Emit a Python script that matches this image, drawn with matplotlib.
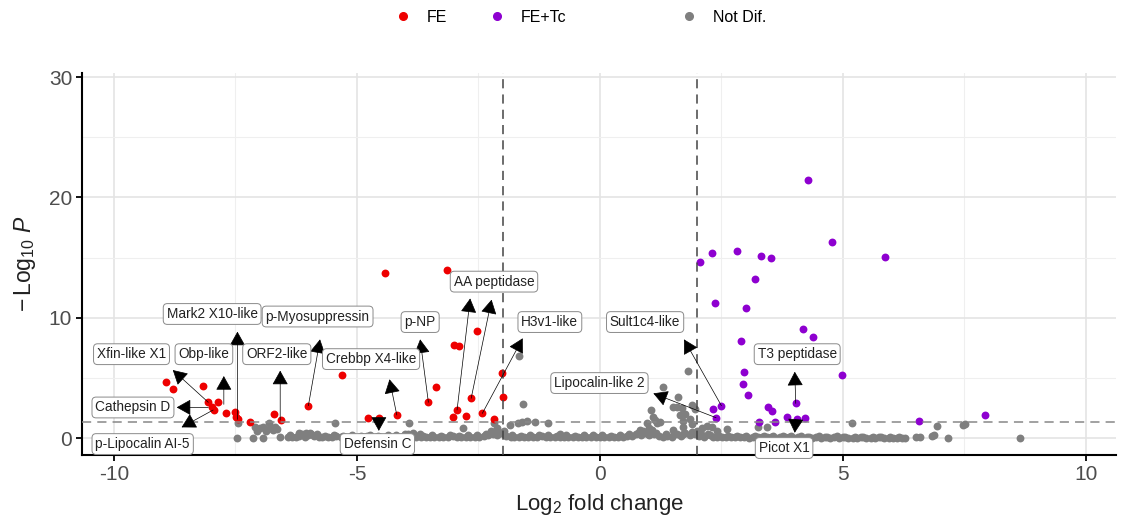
import matplotlib
matplotlib.use("Agg")
import matplotlib.pyplot as plt
from matplotlib.lines import Line2D

plt.rcParams['font.family'] = ['Liberation Sans', 'DejaVu Sans']
plt.rcParams['mathtext.fontset'] = 'custom'
plt.rcParams['mathtext.rm'] = 'Liberation Sans'
plt.rcParams['mathtext.it'] = 'Liberation Sans:italic'

# significant in FE (log2FC, -log10 P)
fe_x = [-8.92, -8.78, -8.16, -8.06, -7.85, -7.99, -7.94, -7.70, -7.52, -7.49, -7.45, -7.20,
        -6.71, -6.57, -6.00, -5.31, -4.78, -4.54, -4.18, -4.42, -3.15, -2.52, -3.00, -2.90,
        -3.37, -3.53, -2.94, -3.03, -2.76, -2.65, -2.42, -2.18, -2.02, -2.00]
fe_y = [4.68, 4.05, 4.32, 2.97, 2.97, 2.60, 2.33, 2.05, 2.19, 1.77, 1.55, 1.30,
        2.00, 1.50, 2.69, 5.24, 1.66, 1.69, 1.91, 13.74, 13.97, 8.89, 7.73, 7.67,
        4.27, 2.97, 2.33, 1.72, 1.83, 3.30, 2.05, 1.55, 5.38, 3.38]

# significant in FE+Tc
tc_x = [4.29, 4.77, 5.86, 2.06, 2.30, 2.83, 3.31, 3.52, 3.19, 2.36, 3.00, 4.18, 4.39, 2.91,
        4.99, 2.97, 2.95, 3.04, 4.03, 2.50, 2.32, 2.39, 3.45, 3.55, 3.27, 3.61, 3.85, 4.06,
        4.22, 6.57, 7.92]
tc_y = [21.45, 16.27, 15.02, 14.66, 15.40, 15.54, 15.13, 14.94, 13.19, 11.20, 10.80, 9.03,
        8.37, 8.09, 5.21, 5.46, 4.46, 3.57, 2.88, 2.69, 2.38, 1.69, 2.60, 2.24, 1.36, 1.30,
        1.72, 1.55, 1.69, 1.44, 1.88]

# not differential, scattered ones
nd_x = [-7.46, -7.13, -6.94, -6.58, -7.44, -7.10, -7.00, -6.93, -6.82, -6.79, -6.72, -6.69,
        -6.65, -7.05, -6.88, -5.46, -6.20, -6.05, -5.95, -3.92, -3.85, -3.70, -2.81, -2.25,
        -2.18, -2.12, -2.08, -1.97, -1.85, -1.68, -1.61, -1.51, -1.34, -1.06, -1.59, -1.66,
        -0.82, 0.82, 0.89, 0.86, 0.96, 1.06, 1.10, 1.13, 1.17, 1.30, 1.23, 1.00, 1.08, 1.61,
        1.51, 1.58, 1.68, 1.89, 1.95, 1.75, 1.85, 1.65, 1.72, 1.90, 1.82, 1.50, 1.70, 2.00,
        2.10, 2.20, 2.30, 2.40, 2.62, 3.26, 3.43, 5.18, 6.93, 6.87, 6.83, 7.52, 7.48, 7.17,
        8.64, 6.51, 6.58]
nd_y = [0.00, 0.00, 0.00, 0.05, 1.22, 0.89, 0.80, 0.94, 1.22, 0.80, 0.66, 0.94,
        0.72, 0.60, 0.60, 1.28, 0.40, 0.45, 0.35, 1.22, 0.40, 0.35, 0.85, 0.60,
        1.22, 0.80, 0.45, 0.60, 1.08, 1.27, 1.36, 1.44, 1.37, 1.22, 2.83, 6.82,
        0.33, 0.66, 0.60, 0.52, 1.22, 2.33, 1.77, 1.50, 1.22, 4.21, 1.35, 0.80, 0.70, 3.43,
        2.60, 2.60, 2.52, 2.74, 2.40, 2.00, 1.60, 1.90, 1.40, 1.20, 5.57, 0.70, 0.90, 0.60,
        0.80, 1.00, 0.90, 0.58, 0.75, 0.95, 0.90, 1.22, 1.02, 0.25, 0.15, 1.16, 1.05, 0.00,
        0.00, 0.05, 0.05]

# the dense band of non-significant genes near zero
band = [(-6.42, 0.05), (-6.33, 0.08), (-6.25, 0.12), (-6.14, 0.30), (-6.06, 0.10), (-5.97, 0.38),
        (-5.88, 0.15), (-5.78, 0.08), (-5.71, 0.12), (-5.60, 0.06), (-5.52, 0.10), (-5.43, 0.14),
        (-5.33, 0.07), (-5.25, 0.11), (-5.15, 0.05), (-5.07, 0.12), (-4.96, 0.09), (-4.88, 0.06),
        (-4.79, 0.13), (-4.70, 0.08), (-4.60, 0.10), (-4.52, 0.05), (-4.41, 0.12), (-4.33, 0.08),
        (-4.24, 0.10), (-4.14, 0.06), (-4.06, 0.20), (-3.95, 0.30), (-3.87, 0.12), (-3.78, 0.08),
        (-3.69, 0.10), (-3.58, 0.06), (-3.50, 0.12), (-3.41, 0.09), (-3.31, 0.05), (-3.22, 0.11),
        (-3.13, 0.07), (-3.03, 0.13), (-2.95, 0.08), (-2.86, 0.10), (-2.76, 0.06), (-2.67, 0.12),
        (-2.58, 0.09), (-2.49, 0.05), (-2.39, 0.14), (-2.31, 0.22), (-2.21, 0.35), (-2.12, 0.28),
        (-2.03, 0.40), (-1.94, 0.18), (-1.84, 0.10), (-1.76, 0.07), (-1.66, 0.12), (-1.57, 0.08),
        (-1.48, 0.11), (-1.38, 0.05), (-1.30, 0.09), (-1.20, 0.13), (-1.11, 0.07), (-1.02, 0.10),
        (-0.93, 0.06), (-0.83, 0.12), (-0.74, 0.08), (-0.65, 0.10), (-0.56, 0.05), (-0.46, 0.11),
        (-0.37, 0.07), (-0.28, 0.12), (-0.18, 0.09), (-0.09, 0.06), (0.00, 0.10), (0.09, 0.07),
        (0.19, 0.12), (0.28, 0.08), (0.37, 0.10), (0.47, 0.06), (0.56, 0.13), (0.65, 0.18),
        (0.74, 0.30), (0.84, 0.25), (0.93, 0.40), (1.02, 0.22), (1.12, 0.35), (1.21, 0.15),
        (1.30, 0.10), (1.39, 0.20), (1.49, 0.12), (1.58, 0.30), (1.67, 0.18), (1.76, 0.40),
        (1.86, 0.25), (1.95, 0.35), (2.04, 0.20), (2.14, 0.12), (2.23, 0.30), (2.32, 0.10),
        (2.41, 0.07), (2.51, 0.11), (2.60, 0.06), (2.69, 0.09), (2.79, 0.05), (2.88, 0.10),
        (2.97, 0.07), (3.06, 0.04), (3.16, 0.09), (3.25, 0.06), (3.34, 0.10), (3.43, 0.05),
        (3.53, 0.08), (3.62, 0.04), (3.71, 0.07), (3.80, 0.05), (3.90, 0.09), (3.99, 0.04),
        (4.08, 0.06), (4.18, 0.03), (4.27, 0.07), (4.36, 0.04), (4.45, 0.06), (4.55, 0.03),
        (4.64, 0.05), (4.73, 0.02), (4.82, 0.06), (4.92, 0.03), (5.01, 0.05), (5.10, 0.02),
        (5.20, 0.04), (5.29, 0.02), (5.38, 0.05), (5.47, 0.03), (5.57, 0.04), (5.66, 0.02),
        (5.75, 0.05), (5.85, 0.03), (5.94, 0.04), (6.03, 0.02), (6.12, 0.04), (6.21, 0.03),
        (6.28, 0.02)]

# second layer of the band, where it is thickest
band_top = [(-6.37, 0.22), (-6.19, 0.18), (-6.01, 0.25), (-5.83, 0.30), (-5.65, 0.20), (-5.47, 0.24),
            (-5.29, 0.19), (-5.11, 0.26), (-4.92, 0.21), (-4.74, 0.25), (-4.56, 0.18), (-4.37, 0.27),
            (-4.19, 0.22), (-4.01, 0.35), (-3.82, 0.24), (-3.64, 0.20), (-3.46, 0.26), (-3.27, 0.21),
            (-3.09, 0.25), (-2.90, 0.19), (-2.72, 0.27), (-2.53, 0.22), (-2.35, 0.30), (-2.17, 0.45),
            (-1.98, 0.32), (-1.80, 0.25), (-1.62, 0.20), (-1.43, 0.26), (-1.25, 0.22), (-1.07, 0.27),
            (-0.88, 0.21), (-0.70, 0.25), (-0.51, 0.19), (-0.33, 0.26), (-0.14, 0.22), (0.04, 0.27),
            (0.23, 0.21), (0.42, 0.25), (0.60, 0.30), (0.79, 0.42), (0.98, 0.30), (1.16, 0.45),
            (1.35, 0.32), (1.53, 0.40), (1.72, 0.30), (1.90, 0.48), (2.09, 0.35), (2.27, 0.25),
            (2.46, 0.20), (2.64, 0.18), (2.83, 0.20), (3.01, 0.16), (3.20, 0.19), (3.38, 0.15),
            (3.57, 0.14), (3.76, 0.17), (3.94, 0.13), (4.13, 0.15), (4.31, 0.12), (4.50, 0.14),
            (4.68, 0.11), (4.87, 0.13), (5.05, 0.10), (5.24, 0.12), (5.42, 0.10), (5.61, 0.11),
            (5.79, 0.09), (5.98, 0.10), (6.16, 0.08)]

# labels: text, box centre, arrow head, arrow tail (at the gene)
lab_text = ['Xfin-like X1', 'Obp-like', 'Cathepsin D', 'p-Lipocalin AI-5', 'Mark2 X10-like',
            'p-Myosuppressin', 'ORF2-like', 'Crebbp X4-like', 'Defensin C', 'p-NP',
            'AA peptidase', 'H3v1-like', 'Sult1c4-like', 'Lipocalin-like 2', 'T3 peptidase',
            'Picot X1']
lab_pos = [(-9.64, 6.97), (-8.15, 6.97), (-9.61, 2.54), (-9.41, -0.50), (-7.98, 10.31),
           (-5.81, 10.10), (-6.65, 6.97), (-4.71, 6.56), (-4.58, -0.50), (-3.70, 9.64),
           (-2.18, 13.00), (-1.03, 9.64), (0.93, 9.64), (-0.01, 4.57), (4.06, 6.97),
           (3.79, -0.83)]
arr_head = [(-8.79, 5.65), (-7.74, 5.15), (-8.71, 2.55), (-8.61, 0.89), (-7.46, 8.84),
            (-5.76, 8.20), (-6.58, 5.60), (-4.33, 4.88), (-4.55, 0.60), (-3.70, 8.20),
            (-2.67, 11.60), (-1.59, 8.29), (1.73, 8.20), (1.10, 3.71), (4.01, 5.51),
            (4.01, 0.44)]
arr_tail = [(-8.06, 2.97), (-7.74, 2.80), (-8.06, 2.55), (-7.96, 2.33), (-7.46, 1.55),
            (-6.00, 2.69), (-6.58, 1.50), (-4.18, 1.91), (-4.55, 1.69), (-3.53, 2.97),
            (-2.94, 2.33), (-2.42, 2.05), (2.50, 2.69), (2.39, 1.69), (4.03, 2.88),
            (4.03, 1.55)]
extra_head = [(-2.23, 11.50)]
extra_tail = [(-2.65, 3.30)]

red = '#EE0000'
purple = '#8E00D0'
grey = '#7F7F7F'
pt = 32

fig = plt.figure(figsize=(11.21, 5.27), dpi=100)
ax = fig.add_axes([0.0731, 0.1366, 0.9224, 0.7249])

band_x = [p[0] for p in band + band_top]
band_y = [p[1] for p in band + band_top]
ax.scatter(band_x, band_y, s=pt, color=grey, lw=0, zorder=3)
ax.scatter(nd_x, nd_y, s=pt, color=grey, lw=0, zorder=3)
ax.scatter(fe_x, fe_y, s=pt, color=red, lw=0, zorder=4)
ax.scatter(tc_x, tc_y, s=pt, color=purple, lw=0, zorder=4)

for xv in (-2, 2):
    ax.axvline(xv, color='#444444', lw=1.1, ls=(0, (6, 4)), zorder=5)
ax.axhline(1.30, color='#888888', lw=1.1, ls=(0, (6, 4)), zorder=5)

aprops = dict(arrowstyle='-|>,head_length=0.5,head_width=0.28', color='black', lw=0.5,
              mutation_scale=18, shrinkA=0, shrinkB=0)
for head, tail in zip(arr_head + extra_head, arr_tail + extra_tail):
    ax.annotate('', xy=head, xytext=tail, arrowprops=aprops, zorder=6)
for t, (lx, ly) in zip(lab_text, lab_pos):
    ax.text(lx, ly, t, fontsize=9.8, color='#222222', ha='center', va='center', zorder=7,
            bbox=dict(boxstyle='round,pad=0.25,rounding_size=0.3', fc='white', ec='#8A8A8A', lw=0.7))

ax.set_xlim(-10.66, 10.62)
ax.set_ylim(-1.41, 30.34)
ax.set_xticks([-10, -5, 0, 5, 10])
ax.set_xticklabels(['-10', '-5', '0', '5', '10'])
ax.set_yticks([0, 10, 20, 30])
ax.set_xticks([-7.5, -2.5, 2.5, 7.5], minor=True)
ax.set_yticks([5, 15, 25], minor=True)
ax.grid(True, which='major', color='#E4E4E4', lw=1.2, zorder=0)
ax.grid(True, which='minor', color='#EFEFEF', lw=0.8, zorder=0)
ax.set_axisbelow(True)
ax.tick_params(which='minor', length=0)
ax.tick_params(which='major', length=4, width=1.3, color='black', labelsize=15,
               labelcolor='#4D4D4D', pad=3)
for s in ('top', 'right'):
    ax.spines[s].set_visible(False)
for s in ('left', 'bottom'):
    ax.spines[s].set_linewidth(1.5)
    ax.spines[s].set_color('black')

ax.set_xlabel(r'$\mathrm{Log}_{2}$ fold change', fontsize=16, color='#222222', labelpad=6)
ax.set_ylabel(r'$-\,\mathrm{Log}_{10}\ \mathit{P}$', fontsize=16.5, color='#222222', labelpad=8)

leg_names = ['FE', 'FE+Tc', 'Not Dif.']
leg_cols = [red, purple, grey]
leg_x = [395, 489, 681]
for name, col, lx in zip(leg_names, leg_cols, leg_x):
    h = Line2D([], [], marker='o', ls='', color=col, markersize=5.5)
    fig.legend(handles=[h], labels=[name], loc='center left', bbox_to_anchor=(lx / 1121, 1 - 17 / 527),
               frameon=False, fontsize=11.5, handlelength=1.0, handletextpad=1.0,
               borderpad=0, borderaxespad=0)

fig.savefig('out.png', dpi=100)
